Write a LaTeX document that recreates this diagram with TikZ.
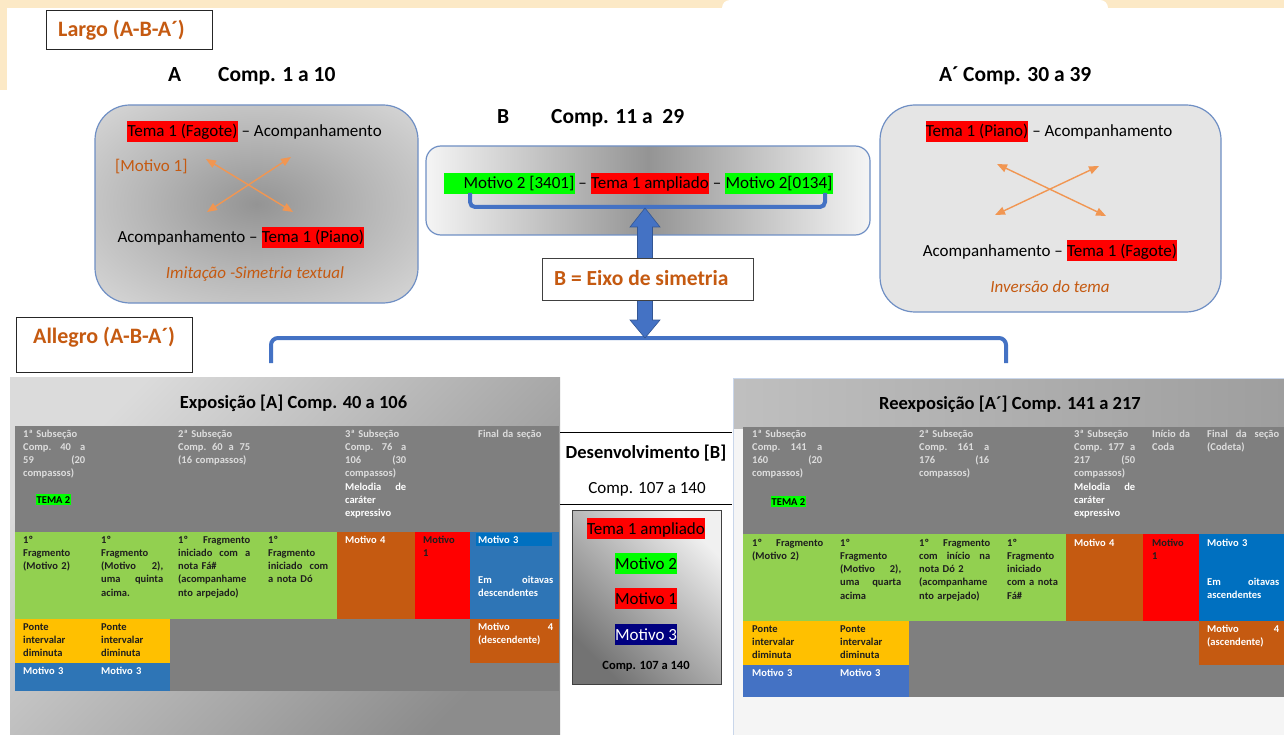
\documentclass[tikz,border=0pt]{standalone}
\usepackage{fontspec}
\setmainfont{Carlito}
\usetikzlibrary{arrows.meta,calc}

\definecolor{cream}{HTML}{FCE9C6}
\definecolor{accent}{HTML}{C55A11}
\definecolor{bracecol}{HTML}{4472C4}
\definecolor{boxedge}{HTML}{6F8FC4}
\definecolor{xarrow}{HTML}{F19652}
\definecolor{hlred}{HTML}{FF0000}
\definecolor{hlgreen}{HTML}{00FF00}
\definecolor{hlnavy}{HTML}{000080}
\definecolor{tgray}{HTML}{7F7F7F}
\definecolor{tgreen}{HTML}{92D050}
\definecolor{tyellow}{HTML}{FFC000}
\definecolor{torange}{HTML}{C55A11}
\definecolor{tblueA}{HTML}{2E75B6}
\definecolor{tblueB}{HTML}{0070C0}
\definecolor{tblueC}{HTML}{4472C4}
\definecolor{hdr}{HTML}{DDDDDD}
\definecolor{celldark}{HTML}{1E1E1E}
\definecolor{paneledge}{HTML}{C9D6EA}

% highlighted run of text (marker-pen style background)
\newcommand{\hl}[2]{{\setlength{\fboxsep}{0.3pt}\colorbox{#1}{\vrule height 0.94em depth 0.3em width 0pt\relax #2}}}
\newcommand{\cellfont}{\fontsize{10.5}{13.3}\selectfont\bfseries}

% soft grey glow for the A box
\pgfdeclareradialshading{glowA}{\pgfpoint{0bp}{0bp}}{color(0bp)=(black!42); color(18bp)=(black!28); color(50bp)=(black!5)}

\begin{document}
\begin{tikzpicture}[x=1pt,y=-1pt,
  every node/.style={inner sep=0pt},
  lbl/.style={font=\fontsize{21.5}{25}\selectfont\bfseries, anchor=base west},
  body/.style={font=\fontsize{17}{21}\selectfont, anchor=base},
  ital/.style={font=\fontsize{17}{21}\selectfont\itshape, text=accent, anchor=base},
  sechead/.style={draw=black!85, line width=1.3pt, fill=white, anchor=north west},
  headtxt/.style={font=\fontsize{22}{26}\selectfont\bfseries, text=accent, anchor=base west},
  panelbox/.style={rounded corners=35pt, draw=boxedge, line width=1.2pt},
  xarr/.style={draw=xarrow, line width=1.4pt, {Triangle[length=10pt,width=8pt]}-{Triangle[length=10pt,width=8pt]}},
  bracepen/.style={draw=bracecol, line width=4pt},
  cell/.style={font=\cellfont, anchor=base west, align=left},
  hcell/.style={cell, text=hdr},
  dcell/.style={cell, text=celldark},
  wcell/.style={cell, text=white},
  tabtitle/.style={font=\fontsize{18.5}{22}\selectfont\bfseries, anchor=base},
  tag/.style={font=\cellfont, fill=hlgreen, text=black, inner xsep=0.5pt, inner ysep=2pt, anchor=base west},
]
\useasboundingbox (0,0) rectangle (1284,735);
\fill[white] (0,0) rectangle (1284,735);

% page edges
\fill[cream] (0,0) rectangle (1284,8);
\fill[cream] (0,0) rectangle (7,90);
\fill[white, rounded corners=8pt] (722,0) rectangle (1108,24);

% ---------- Largo ----------
\node[sechead, minimum width=166pt, minimum height=39pt] (largo) at (46,10) {};
\node[headtxt] (largoT) at (58,37) {Largo (A-B-A´)};

\node[lbl] (labA) at (168,82) {A};
\node[lbl] (compA) at (218,82) {Comp. 1 a 10};
\node[lbl] (labB) at (497,124) {B};
\node[lbl] (compB) at (551,124) {Comp. 11 a\ \ 29};
\node[lbl] (labA2) at (939,82) {A´};
\node[lbl] (compA2) at (963,82) {Comp. 30 a 39};

% section A
\node[panelbox, shade, shading=glowA, minimum width=323pt, minimum height=198pt] (boxA) at (256.5,204) {};
\node[body] (a1) at (254.5,137) {\hl{hlred}{Tema 1 (Fagote)} – Acompanhamento};
\node[body, text=accent, anchor=base west] (a2) at (115,172) {[Motivo 1]};
\node[body] (a3) at (241,243) {Acompanhamento – \hl{hlred}{Tema 1 (Piano)}};
\node[ital] (a4) at (255,278) {Imitação -Simetria textual};
\coordinate (xa1) at (206,159);
\coordinate (xa2) at (293,212);
\coordinate (xa3) at (291,157);
\coordinate (xa4) at (207,212);
\draw[xarr] (xa1) -- (xa2);
\draw[xarr] (xa3) -- (xa4);

% section B
\node[draw=boxedge, line width=1.2pt, rounded corners=15pt, left color=black!4, right color=black!4, middle color=black!42, minimum width=444pt, minimum height=89pt] (boxB) at (648,190.5) {};
\node[body] (b1) at (638.5,189) {\hl{hlgreen}{\hspace{19pt}Motivo 2 [3401]} – \hl{hlred}{Tema 1 ampliado} – \hl{hlgreen}{Motivo 2[0134]}};
\coordinate (bkL) at (470,193);
\coordinate (bkR) at (825,193);
\coordinate (axTop) at (645,208);
\coordinate (axBot) at (645,338);
\draw[bracepen, rounded corners=5pt] (bkL) -- (470,207) -- (825,207) -- (bkR);

% section A'
\node[panelbox, fill=black!10, minimum width=341pt, minimum height=207pt] (boxA2) at (1050.5,208.5) {};
\node[body] (c1) at (1049,137) {\hl{hlred}{Tema 1 (Piano)} – Acompanhamento};
\node[body] (c2) at (1050,256) {Acompanhamento – \hl{hlred}{Tema 1 (Fagote)}};
\node[ital] (c3) at (1050,292) {Inversão do tema};
\coordinate (xc1) at (997,164);
\coordinate (xc2) at (1106,216);
\coordinate (xc3) at (1099,166);
\coordinate (xc4) at (995,215);
\draw[xarr] (xc1) -- (xc2);
\draw[xarr] (xc3) -- (xc4);

% ---------- Allegro ----------
\node[sechead, minimum width=176pt, minimum height=55pt] (allegro) at (16,317) {};
\node[headtxt] (allegroT) at (33,343) {Allegro (A-B-A´)};

\coordinate (brL) at (271,363);
\coordinate (brR) at (1006,363);
\draw[bracepen, rounded corners=7pt] (brL) -- (271,338) -- (1006,338) -- (brR);

% symmetry axis: double block arrow
\fill[bracecol, draw=bracecol!75!black, line width=0.6pt]
  (axTop) -- ++(15,19) -- ++(-7.5,0) -- ($(axBot)+(7.5,-18)$) -- ++(7.5,0) -- (axBot)
  -- ++(-15,-18) -- ++(7.5,0) -- ($(axTop)+(-7.5,19)$) -- ++(-7.5,0) -- cycle;
\node[draw=black!75, fill=white, line width=0.9pt, minimum width=211pt, minimum height=42pt, anchor=north west] (eixo) at (542,258) {};
\node[headtxt, font=\fontsize{21.5}{25}\selectfont\bfseries] (eixoT) at (554,285) {B = Eixo de simetria};

% ---------- Exposição ----------
\shade[top color=black!14, bottom color=black!45, shading angle=45] (10,377) rectangle (560,735);
\node[tabtitle] (expoT) at (293.5,408) {Exposição [A] Comp. 40 a 106};
\fill[tgray] (15,426) rectangle (559,691);
\fill[tgreen] (15,532) rectangle (337,619);
\fill[torange] (337,532) rectangle (415,619);
\fill[hlred] (415,532) rectangle (470,619);
\fill[tblueA] (470,532) rectangle (559,619);
\fill[tblueB] (476,533) rectangle (552,546);
\fill[tyellow] (15,619) rectangle (170,663);
\fill[tblueA] (15,663) rectangle (170,691);
\fill[torange] (470,619) rectangle (559,663);

\node[hcell, text width=62pt] (e11) at (23,437) {1ª Subseção\\Comp.\hfill 40\hfill a\\59\hfill (20\\compassos)};
\node[tag] (e11t) at (36,503) {TEMA 2};
\node[hcell, text width=72pt] (e13) at (178,437) {2ª Subseção\\Comp.\hfill 60\hfill a\hfill 75\\(16 compassos)};
\node[hcell, text width=61pt] (e15) at (345,437) {3ª Subseção\\Comp.\hfill 76\hfill a\\106\hfill (30\\compassos)\\{\color{white}Melodia\hfill de\\caráter\\expressivo}};
\node[hcell, text width=75pt] (e17) at (478,437) {Final da seção};

\node[dcell, text width=62pt] (e21) at (23,543) {1º\\Fragmento\\(Motivo 2)};
\node[dcell, text width=62pt] (e22) at (101,543) {1º\\Fragmento\\(Motivo\hfill 2),\\uma\hfill quinta\\acima.};
\node[dcell, text width=72pt] (e23) at (178,543) {1º\hfill Fragmento\\iniciado\hfill com\hfill a\\nota Fá\#\\(acompanhame\\nto arpejado)};
\node[dcell, text width=60pt] (e24) at (268,543) {1º\\Fragmento\\iniciado\hfill com\\a nota Dó};
\node[wcell, text width=62pt] (e25) at (345,543) {Motivo 4};
\node[dcell, text width=45pt] (e26) at (423,543) {Motivo\\1};
\node[wcell, text width=75pt] (e27) at (478,543) {Motivo 3};
\node[wcell, text width=75pt] (e27b) at (478,583) {Em\hfill oitavas\\descendentes};

\node[dcell, text width=62pt] (e31) at (23,630) {Ponte\\intervalar\\diminuta};
\node[dcell, text width=62pt] (e32) at (101,630) {Ponte\\intervalar\\diminuta};
\node[wcell, text width=75pt] (e37) at (478,630) {Motivo\hfill 4\\(descendente)};
\node[wcell, text width=62pt] (e41) at (23,674) {Motivo 3};
\node[wcell, text width=62pt] (e42) at (101,674) {Motivo 3};

% ---------- Desenvolvimento ----------
\coordinate (dvL1) at (560,432);
\coordinate (dvR1) at (732,432);
\coordinate (dvL2) at (560,504);
\coordinate (dvR2) at (732,504);
\draw[black, line width=0.9pt] (dvL1) -- (dvR1);
\draw[black, line width=0.9pt] (dvL2) -- (dvR2);
\node[font=\fontsize{18.5}{22}\selectfont\bfseries, anchor=base] (devT) at (646,458) {Desenvolvimento [B]};
\node[font=\fontsize{17}{21}\selectfont, anchor=base] (devC) at (647,493) {Comp. 107 a 140};
\node[draw=black!75, line width=1.3pt, top color=black!6, bottom color=black!55, shading angle=-45, minimum width=149pt, minimum height=174pt, anchor=north west] (devbox) at (572,510) {};
\node[body] (d1) at (646,534) {\hl{hlred}{Tema 1 ampliado}};
\node[body] (d2) at (646,569) {\hl{hlgreen}{Motivo 2}};
\node[body] (d3) at (646,604) {\hl{hlred}{Motivo 1}};
\node[body] (d4) at (646,640) {\hl{hlnavy}{\color{white}Motivo 3}};
\node[font=\fontsize{12.5}{15}\selectfont\bfseries, anchor=base] (d5) at (646,669) {Comp. 107 a 140};

% ---------- Reexposição ----------
\fill[black!4] (733,378) rectangle (1284,735);
\shade[left color=black!25, right color=black!38] (733,378) rectangle (1284,428);
\draw[paneledge, line width=1pt] (733,735) -- (733,378) -- (1284,378);
\node[tabtitle] (reexT) at (1010,409) {Reexposição [A´] Comp. 141 a 217};
\fill[tgray] (743,427) rectangle (1284,697);
\fill[tgreen] (743,534) rectangle (1066,621);
\fill[torange] (1066,534) rectangle (1143,621);
\fill[hlred] (1143,534) rectangle (1199,621);
\fill[tblueB] (1199,534) rectangle (1284,621);
\fill[tyellow] (743,621) rectangle (909,665);
\fill[tblueC] (743,665) rectangle (909,697);
\fill[torange] (1199,621) rectangle (1284,665);

\node[hcell, text width=70pt] (r11) at (752,437) {1ª Subseção\\Comp.\hfill 141\hfill a\\160\hfill (20\\compassos)};
\node[tag] (r11t) at (771,505) {TEMA 2};
\node[hcell, text width=70pt] (r13) at (919,437) {2ª Subseção\\Comp.\hfill 161\hfill a\\176\hfill (16\\compassos)};
\node[hcell, text width=61pt] (r15) at (1074,437) {3ª Subseção\\Comp.\hfill 177\hfill a\\217\hfill (50\\compassos)\\{\color{white}Melodia\hfill de\\caráter\\expressivo}};
\node[hcell, text width=45pt] (r16) at (1152,437) {Início da\\Coda};
\node[hcell, text width=72pt] (r17) at (1207,437) {Final\hfill da\hfill seção\\(Codeta)};

\node[dcell, text width=71pt] (r21) at (752,546) {1º\hfill Fragmento\\(Motivo 2)};
\node[dcell, text width=61pt] (r22) at (840,546) {1º\\Fragmento\\(Motivo\hfill 2),\\uma\hfill quarta\\acima};
\node[dcell, text width=71pt] (r23) at (919,546) {1º\hfill Fragmento\\com\hfill início\hfill na\\nota Dó 2\\(acompanhame\\nto arpejado)};
\node[dcell, text width=55pt] (r24) at (1007,546) {1º\\Fragmento\\iniciado\\com a nota\\Fá\#};
\node[wcell, text width=62pt] (r25) at (1074,546) {Motivo 4};
\node[dcell, text width=45pt] (r26) at (1152,546) {Motivo\\1};
\node[wcell, text width=72pt] (r27) at (1207,546) {Motivo 3};
\node[wcell, text width=72pt] (r27b) at (1207,585) {Em\hfill oitavas\\ascendentes};

\node[dcell, text width=62pt] (r31) at (752,632) {Ponte\\intervalar\\diminuta};
\node[dcell, text width=62pt] (r32) at (840,632) {Ponte\\intervalar\\diminuta};
\node[wcell, text width=72pt] (r37) at (1207,632) {Motivo\hfill 4\\(ascendente)};
\node[wcell, text width=62pt] (r41) at (752,676) {Motivo 3};
\node[wcell, text width=62pt] (r42) at (840,676) {Motivo 3};
\end{tikzpicture}
\end{document}
